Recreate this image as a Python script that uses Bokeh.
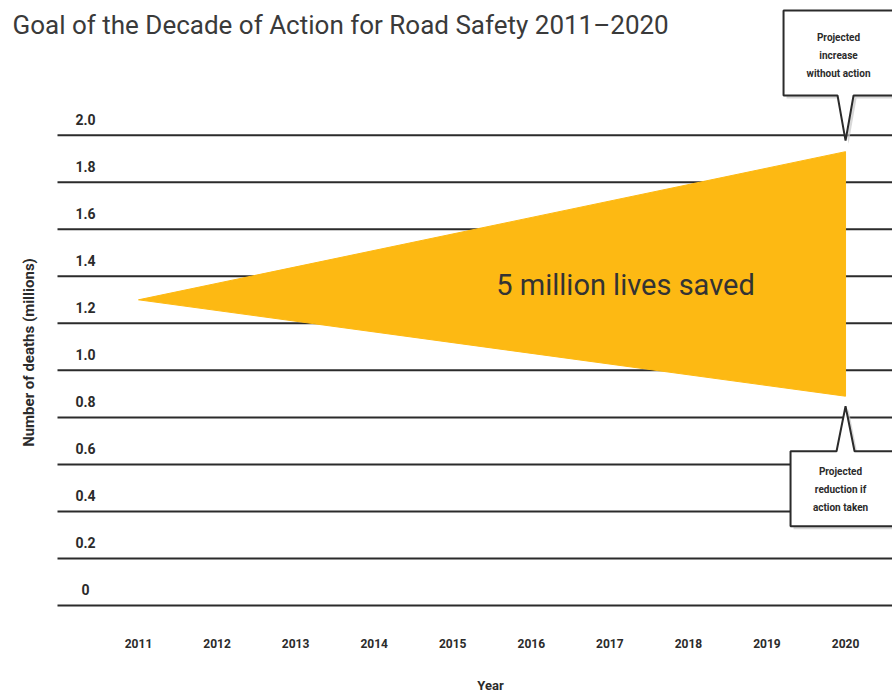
import math
from bokeh.plotting import figure
from bokeh.models import ColumnDataSource, Range1d
from bokeh.core.properties import value
from bokeh.embed import file_html
from bokeh.resources import INLINE

# ---- data ----
years = [2011, 2012, 2013, 2014, 2015, 2016, 2017, 2018, 2019, 2020]
year_labels = ["2011", "2012", "2013", "2014", "2015", "2016", "2017", "2018", "2019", "2020"]
y_ticks = [0, 0.2, 0.4, 0.6, 0.8, 1.0, 1.2, 1.4, 1.6, 1.8, 2.0]
y_tick_labels = ["0", "0.2", "0.4", "0.6", "0.8", "1.0", "1.2", "1.4", "1.6", "1.8", "2.0"]
start_year = 2011
end_year = 2020
start_value = 1.3          # deaths (millions) in 2011
increase_value = 1.93      # projected 2020 without action
reduction_value = 0.89     # projected 2020 if action taken
title = "Goal of the Decade of Action for Road Safety 2011\u20132020"
band_label = "5 million lives saved"
increase_note = "Projected\nincrease\nwithout action"
reduction_note = "Projected\nreduction if\naction taken"
x_title = "Year"
y_title = "Number of deaths (millions)"

# ---- geometry helpers (pixel scale) ----
W, H = 892, 694
PX_X = 78.56   # px per year
PX_Y = 235.15  # px per million
def dx(px): return px / PX_X
def dy(px): return px / PX_Y

X0_PX, Y2_PX = 138.0, 134.7          # pixel position of 2011 and of value 2.0
x_start = start_year - dx(X0_PX)
x_end = x_start + dx(W)
y_end = 2.0 + dy(Y2_PX)
y_start = y_end - dy(H)

FONT = "Roboto"
DARK = "#2b2b2b"
YELLOW = "#FDB913"

p = figure(width=W, height=H, output_backend="svg", toolbar_location=None,
           x_range=Range1d(x_start, x_end), y_range=Range1d(y_start, y_end),
           min_border_left=0, min_border_right=0, min_border_top=0, min_border_bottom=0)
p.outline_line_color = None
p.axis.visible = False
p.grid.visible = False

# gridlines
grid_left = start_year - dx(81)
p.segment(x0=[grid_left] * len(y_ticks), y0=y_ticks, x1=[x_end] * len(y_ticks), y1=y_ticks,
          line_color=DARK, line_width=2)

# y tick labels placed above their gridlines
lab_src = ColumnDataSource(dict(x=[start_year - dx(53)] * len(y_ticks), y=y_ticks, t=y_tick_labels))
p.text(x="x", y="y", text="t", source=lab_src, text_align="center", text_baseline="middle",
       y_offset=-16, text_font=value(FONT), text_font_style="bold",
       text_font_size="14px", text_color=DARK)

# x tick labels
p.text(x=years, y=[0] * len(years), text=year_labels, text_align="center",
       text_baseline="middle", y_offset=38, text_font=value(FONT),
       text_font_style="bold", text_font_size="12px", text_color=DARK)

# triangle (lives saved)
p.patch(x=[start_year, end_year, end_year], y=[start_value, increase_value, reduction_value],
        fill_color=YELLOW, line_color=YELLOW, line_width=1)

p.text(x=[start_year + dx(487)], y=[start_value + dy(15)], text=[band_label],
       text_align="center", text_baseline="middle", text_font=value(FONT),
       text_font_size="29px", text_color="#333333")

# callouts
def callout(tip_x, tip_y, box_left, box_right, box_near, box_far, pointer_half):
    xs = [box_left, box_right, box_right, tip_x + pointer_half, tip_x, tip_x - pointer_half, box_left]
    ys = [box_far, box_far, box_near, box_near, tip_y, box_near, box_near]
    p.patch(x=[v + dx(3) for v in xs], y=[v - dy(3) for v in ys],
            fill_color="#c8c8c8", line_color=None, fill_alpha=0.7)
    p.patch(x=xs, y=ys, fill_color="white", line_color=DARK, line_width=2)

callout(end_year, increase_value + dy(11), end_year - dx(62), end_year + dx(80),
        2.0 + dy(39.7), 2.0 + dy(124.7), dx(8))
callout(end_year, reduction_value - dy(10), end_year - dx(55), end_year + dx(80),
        reduction_value - dy(55), reduction_value - dy(130), dx(9))

p.text(x=[end_year - dx(7)], y=[2.0 + dy(79.7)], text=[increase_note],
       text_align="center", text_baseline="middle", text_font=value(FONT),
       text_font_style="bold", text_font_size="10px", text_color=DARK,
       text_line_height=1.6)
p.text(x=[end_year - dx(5)], y=[2.0 - dy(354.3)], text=[reduction_note],
       text_align="center", text_baseline="middle", text_font=value(FONT),
       text_font_style="bold", text_font_size="10px", text_color=DARK,
       text_line_height=1.6)

# titles
p.text(x=[start_year - dx(126)], y=[2.0 + dy(125)], text=[title],
       text_align="left", text_baseline="top", text_font=value(FONT),
       text_font_size="26px", text_color="#3a3a3a")
p.text(x=[start_year - dx(110)], y=[2.0 - dy(217.3)], text=[y_title],
       angle=math.pi / 2, text_align="center", text_baseline="middle",
       text_font=value(FONT), text_font_style="bold", text_font_size="15px",
       text_color=DARK)
p.text(x=[start_year + dx(352)], y=[2.0 - dy(550)], text=[x_title],
       text_align="center", text_baseline="middle", text_font=value(FONT),
       text_font_style="bold", text_font_size="13px", text_color=DARK)

open("out.html", "w").write(file_html(p, INLINE))
